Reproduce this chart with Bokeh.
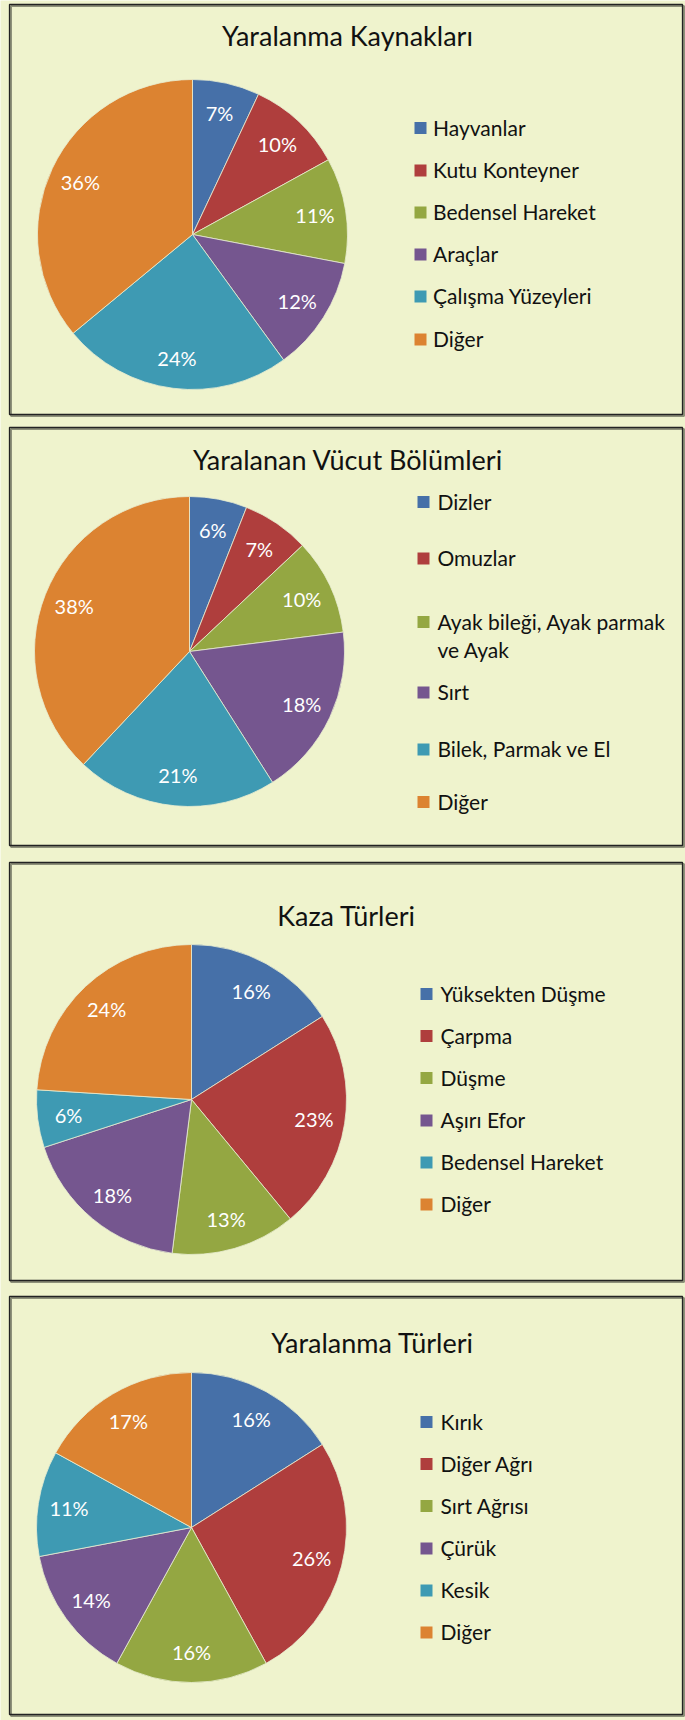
import math
from bokeh.plotting import figure
from bokeh.models import Range1d, ColumnDataSource
from bokeh.core.properties import value
from bokeh.embed import file_html
from bokeh.resources import INLINE

# ---------------- data ----------------
titles = ["Yaralanma Kaynakları", "Yaralanan Vücut Bölümleri", "Kaza Türleri", "Yaralanma Türleri"]

categories1 = ["Hayvanlar", "Kutu Konteyner", "Bedensel Hareket", "Araçlar", "Çalışma Yüzeyleri", "Diğer"]
values1 = [7, 10, 11, 12, 24, 36]

categories2 = ["Dizler", "Omuzlar", "Ayak bileği, Ayak parmak\nve Ayak", "Sırt", "Bilek, Parmak ve El", "Diğer"]
values2 = [6, 7, 10, 18, 21, 38]

categories3 = ["Yüksekten Düşme", "Çarpma", "Düşme", "Aşırı Efor", "Bedensel Hareket", "Diğer"]
values3 = [16, 23, 13, 18, 6, 24]

categories4 = ["Kırık", "Diğer Ağrı", "Sırt Ağrısı", "Çürük", "Kesik", "Diğer"]
values4 = [16, 26, 16, 14, 11, 17]

colors = ["#4670A8", "#AF3E3D", "#94A742", "#75568F", "#3E9AB3", "#DC8331"]

# ---------------- layout (screen pixels, y downward) ----------------
W, H = 685, 1720
BG = "#EFF3CD"
FONT = "Lato"

panels = [
    dict(box=(9, 682, 4, 414), title_xy=(347, 35), center=(192, 234),
         leg_x=414, text_x=432.5, leg_y=[126.5, 169, 211, 253, 295, 338]),
    dict(box=(9, 682, 427, 845), title_xy=(347.5, 459), center=(189, 651),
         leg_x=417, text_x=437, leg_y=[500.5, 557, 620.5, 691, 748, 800.5]),
    dict(box=(9, 682, 862, 1280), title_xy=(346, 914.5), center=(191, 1099),
         leg_x=420, text_x=440, leg_y=[992.5, 1034.5, 1076.5, 1119, 1161, 1203]),
    dict(box=(9, 682, 1296, 1714), title_xy=(372, 1341.5), center=(191, 1527),
         leg_x=420, text_x=440, leg_y=[1420.5, 1462.5, 1504.5, 1547, 1589, 1631]),
]
RADIUS = 155
LABEL_R = 0.80 * RADIUS
WRAP_DY = 28.5
SQ = 12


def Y(ys):
    return H - ys


p = figure(width=W, height=H, x_range=Range1d(0, W), y_range=Range1d(0, H),
           output_backend="svg", toolbar_location=None, min_border=0,
           x_axis_location=None, y_axis_location=None,
           background_fill_color=BG, border_fill_color=BG, outline_line_color=None)
p.grid.visible = False

datasets = [(categories1, values1), (categories2, values2), (categories3, values3), (categories4, values4)]

for (cats, vals), title, lay in zip(datasets, titles, panels):
    l, r, t, b = lay["box"]
    # shadow + frame
    p.quad(left=l + 1.5, right=r + 1.5, top=Y(t + 1.5), bottom=Y(b + 1.5),
           fill_color=None, line_color="#8E917A", line_width=2)
    p.quad(left=l, right=r, top=Y(t), bottom=Y(b),
           fill_color=None, line_color="#222222", line_width=1.3)

    # title
    tx, ty = lay["title_xy"]
    p.text(x=[tx], y=[Y(ty)], text=[title], text_align="center", text_baseline="middle",
           text_font=value(FONT), text_font_size=value("27px"), text_color="#111111")

    # pie
    total = float(sum(vals))
    cx, cy = lay["center"]
    starts, ends, lx, ly, labels = [], [], [], [], []
    cum = 0.0
    for v in vals:
        a0 = math.pi / 2 - 2 * math.pi * cum / total
        a1 = math.pi / 2 - 2 * math.pi * (cum + v) / total
        mid = (a0 + a1) / 2
        starts.append(a0)
        ends.append(a1)
        lx.append(cx + LABEL_R * math.cos(mid))
        ly.append(Y(cy) + LABEL_R * math.sin(mid))
        labels.append(f"{round(100 * v / total)}%")
        cum += v
    src = ColumnDataSource(dict(start=starts, end=ends, color=colors[:len(vals)]))
    p.wedge(x=cx, y=Y(cy), radius=RADIUS, start_angle="start", end_angle="end",
            direction="clock", fill_color="color", line_color="#E9EED2", line_width=0.8,
            source=src)
    p.text(x=lx, y=ly, text=labels, text_align="center", text_baseline="middle",
           text_font=value(FONT), text_font_size=value("20px"), text_color="white")

    # legend
    sq_l, sq_r, sq_t, sq_b, tx_list, ty_list, tt = [], [], [], [], [], [], []
    for i, name in enumerate(cats):
        c = lay["leg_y"][i]
        sq_l.append(lay["leg_x"])
        sq_r.append(lay["leg_x"] + SQ)
        sq_t.append(Y(c - SQ / 2 + 1))
        sq_b.append(Y(c + SQ / 2 + 1))
        for j, line in enumerate(name.split("\n")):
            tx_list.append(lay["text_x"])
            ty_list.append(Y(c + j * WRAP_DY))
            tt.append(line)
    p.quad(left=sq_l, right=sq_r, top=sq_t, bottom=sq_b, fill_color=colors[:len(cats)], line_color=None)
    p.text(x=tx_list, y=ty_list, text=tt, text_align="left", text_baseline="middle",
           text_font=value(FONT), text_font_size=value("21px"), text_color="#111111")

open("out.html", "w").write(file_html(p, INLINE))
